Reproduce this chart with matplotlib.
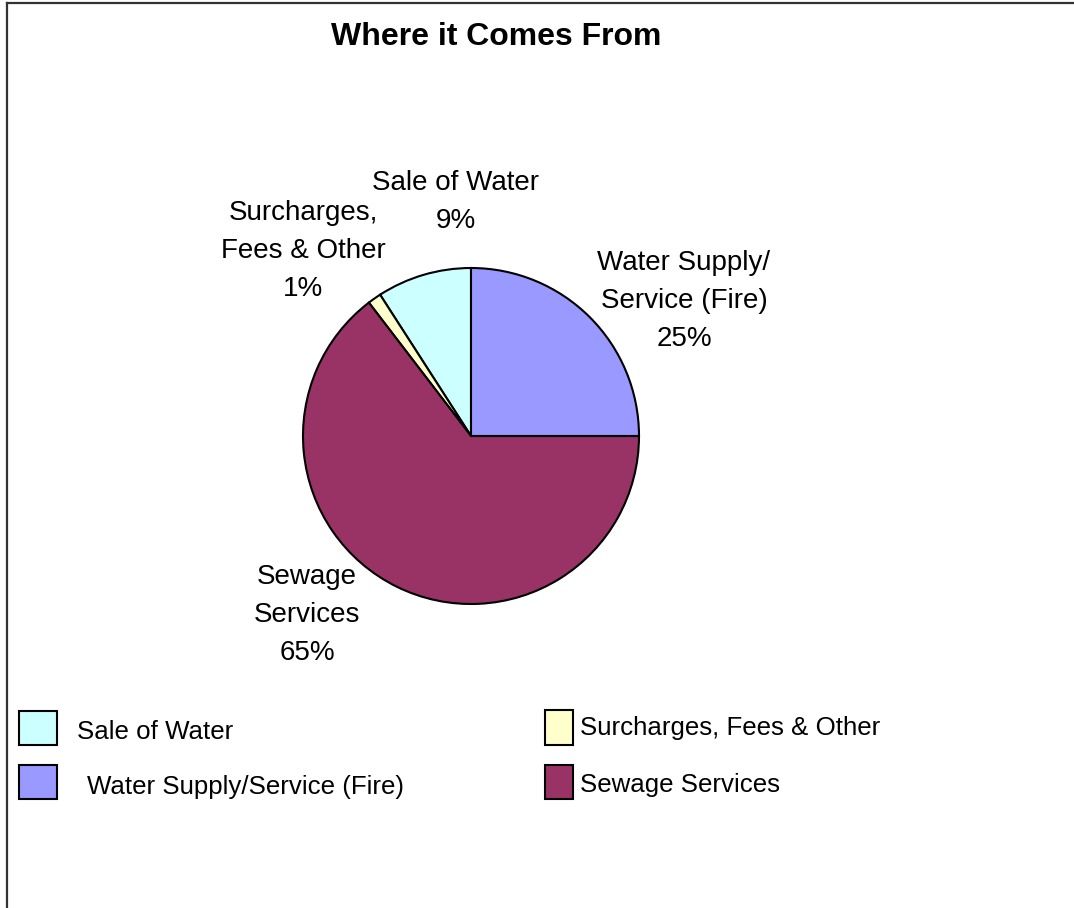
import matplotlib
matplotlib.use("Agg")
import matplotlib.pyplot as plt
from matplotlib.patches import Rectangle
from matplotlib.lines import Line2D

# ---- data ----
categories = ["Sale of Water", "Surcharges, Fees & Other", "Sewage Services", "Water Supply/Service (Fire)"]
values = [9.1, 1.3, 64.6, 25.0]
slice_labels = ["Sale of Water", "Surcharges,\nFees & Other", "Sewage\nServices", "Water Supply/\nService (Fire)"]
colors = ["#CCFFFF", "#FFFFCC", "#993366", "#9999FF"]
title = "Where it Comes From"

plt.rcParams["font.family"] = ["Liberation Sans", "DejaVu Sans"]

W, H = 1074, 908
fig = plt.figure(figsize=(W / 100, H / 100), dpi=100)
fig.patch.set_facecolor("white")

def fx(px):
    return px / W

def fy(py):
    return (H - py) / H

# pie axes: centre (471,436), radius 168 px
cx, cy, r = 471, 436, 168
ax = fig.add_axes([fx(cx - r), fy(cy + r), 2 * r / W, 2 * r / H])
ax.pie(values, colors=colors, startangle=90, counterclock=True, radius=1,
       wedgeprops=dict(edgecolor="black", linewidth=1.5))
ax.set_xlim(-1, 1)
ax.set_ylim(-1, 1)
ax.axis("off")

def d(px, py):
    return (px - cx) / r, (cy - py) / r

total = sum(values)
pcts = [f"{round(v / total * 100)}%" for v in values]
label_pos = [(456, 202), (303, 251), (307, 615), (684, 301)]
for lab, pct, (px, py) in zip(slice_labels, pcts, label_pos):
    x, y = d(px, py)
    ax.text(x, y, lab + "\n" + pct, ha="center", va="center", fontsize=20,
            linespacing=1.62, color="black", clip_on=False)

# title
fig.text(fx(496), fy(37), title, ha="center", va="center", fontsize=23,
         fontweight="bold", color="black")

# legend (manual)
leg_boxes = [(19, 711, 38, 34), (545, 710, 28, 35), (545, 765, 28, 34), (19, 765, 38, 34)]
leg_text = [(77, 739), (580, 735), (580, 792), (87, 794)]
for cat, col, (bx, by, bw, bh), (tx, ty) in zip(categories, colors, leg_boxes, leg_text):
    fig.patches.append(Rectangle((fx(bx), fy(by + bh)), bw / W, bh / H,
                                 transform=fig.transFigure, facecolor=col,
                                 edgecolor="black", linewidth=1.5))
    fig.text(fx(tx), fy(ty), cat, ha="left", va="baseline", fontsize=18.6, color="black")

# frame lines (top and left)
fig.lines.append(Line2D([fx(7), 1], [fy(2.5), fy(2.5)], transform=fig.transFigure,
                        color="#333333", linewidth=1.6))
fig.lines.append(Line2D([fx(7), fx(7)], [0, fy(2.5)], transform=fig.transFigure,
                        color="#333333", linewidth=1.6))

fig.savefig("out.png", dpi=100, facecolor="white")
